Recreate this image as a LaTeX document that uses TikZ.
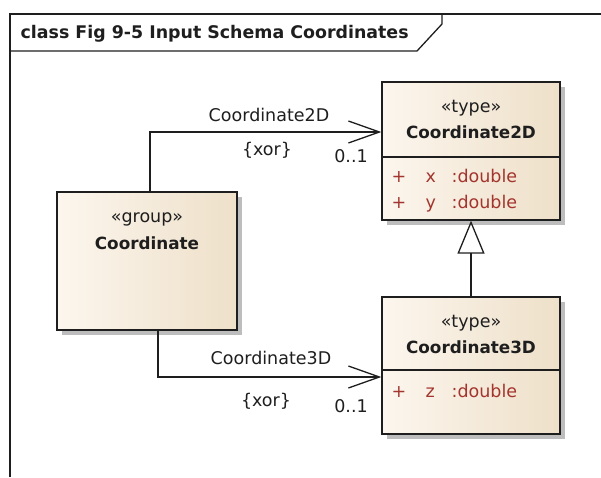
\documentclass[tikz,border=0pt]{standalone}
\usepackage{fontspec}
\setmainfont{DejaVu Sans}
\usetikzlibrary{arrows.meta,shadows}
\definecolor{inkGrey}{HTML}{1E1E1E}
\definecolor{attrRed}{HTML}{A3352E}
\definecolor{boxLight}{HTML}{FCF6EE}
\definecolor{boxTan}{HTML}{EEE0C9}
\definecolor{shadowGrey}{HTML}{BDBDBD}

\begin{document}
\begin{tikzpicture}[x=1pt, y=-1pt, line width=1.3pt, color=inkGrey,
  every node/.style={font=\fontsize{17.5}{20}\selectfont, inner sep=0pt},
  classBox/.style={draw=inkGrey, left color=boxLight, right color=boxTan,
                   minimum width=178pt,
                   drop shadow={shadow xshift=5pt, shadow yshift=-5pt,
                                fill=shadowGrey, opacity=1}},
  boldTxt/.style={font=\fontsize{16.8}{20}\selectfont\bfseries, anchor=base},
  attr/.style={text=attrRed, anchor=base west},
  assoc/.style={-{Straight Barb[length=31pt,width=22pt]}}]
\useasboundingbox (0,0) rectangle (601,477);
% frame and its tab
\draw (10,477) -- (10,14) -- (601,14);
\draw (10,51) -- (417,51) -- (442,24) -- (442,14);
\node[boldTxt, anchor=base west, font=\fontsize{17.4}{20}\selectfont\bfseries]
  (title) at (20,38) {class Fig 9-5 Input Schema Coordinates};

% class boxes
\node[classBox, minimum height=138pt] (c2d) at (471,151) {};
\node[classBox, minimum height=137pt] (c3d) at (471,365.5) {};
\node[classBox, minimum width=180pt, minimum height=138pt] (grp) at (147,261) {};
\draw (c2d.west |- 0,157) -- (c2d.east |- 0,157);
\draw (c3d.west |- 0,370) -- (c3d.east |- 0,370);

\node[anchor=base] (st2) at (471,112) {«type»};
\node[boldTxt] (n2) at (471,138) {Coordinate2D};
\node[anchor=base] (st3) at (471,327) {«type»};
\node[boldTxt] (n3) at (471,353) {Coordinate3D};
\node[anchor=base] (stg) at (147,222) {«group»};
\node[boldTxt] (ng) at (147,249) {Coordinate};

\foreach \a/\y in {x/182, y/208, z/397} {
  \node[attr] (plus\a) at (391,\y) {+};
  \node[attr] (name\a) at (425,\y) {\a};
  \node[attr] (type\a) at (451,\y) {:double};
}

% connectors
\draw[assoc] ([xshift=3pt]grp.north) |- ([yshift=19pt]c2d.west);
\draw[assoc] ([xshift=11pt]grp.south) |- ([yshift=-11.5pt]c3d.west);
\draw[-{Triangle[open,length=33pt,width=27pt]}] (c3d.north) -- (c2d.south);

\node[anchor=base] (r2) at (269,121) {Coordinate2D};
\node[anchor=base] (x2) at (267,155) {\{xor\}};
\node[anchor=base] (m2) at (351,162) {0..1};
\node[anchor=base] (r3) at (271,364) {Coordinate3D};
\node[anchor=base] (x3) at (266,406) {\{xor\}};
\node[anchor=base] (m3) at (351,412) {0..1};
\end{tikzpicture}
\end{document}
